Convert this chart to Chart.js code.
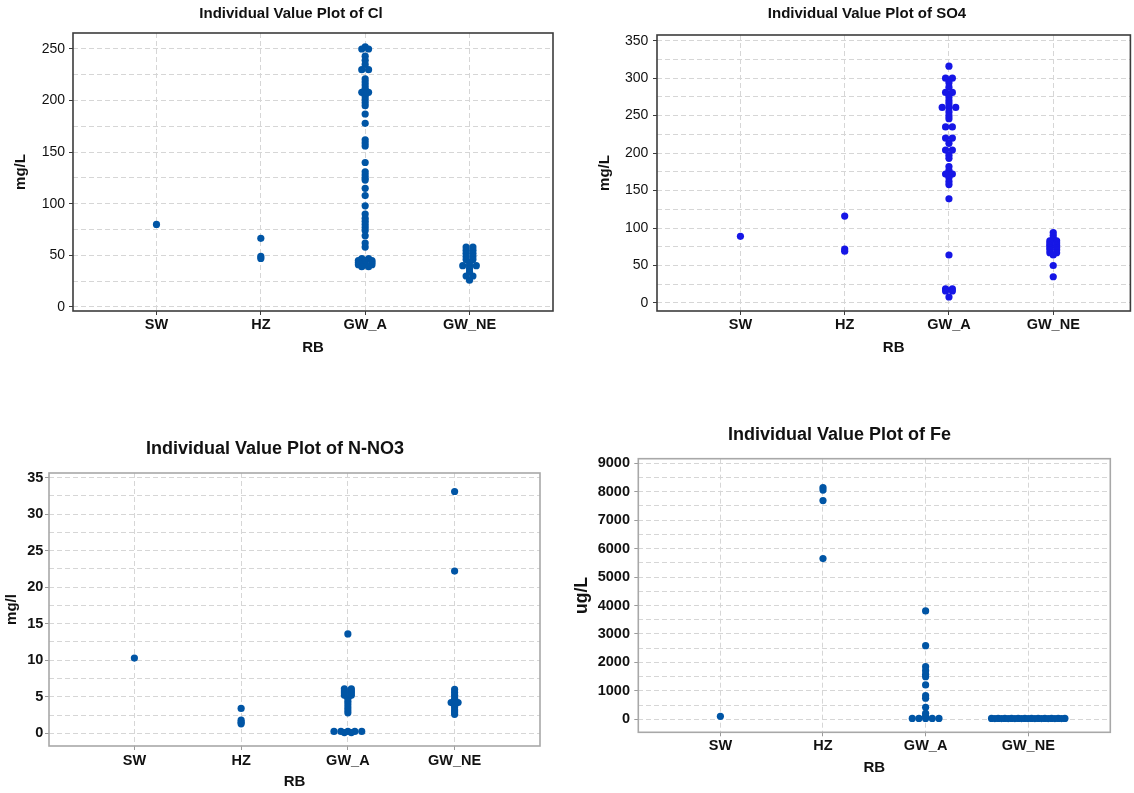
<!DOCTYPE html>
<html>
<head>
<meta charset="utf-8">
<script src="https://cdn.jsdelivr.net/npm/chart.js@4.4.1/dist/chart.umd.min.js"></script>
<style>
html, body { margin: 0; padding: 0; background: #fff; width: 1134px; height: 793px; overflow: hidden; }
.panel { position: absolute; }
</style>
</head>
<body>
<div class="panel" style="left:0;top:0;width:567px;height:360px"><canvas id="cl"></canvas></div>
<div class="panel" style="left:580px;top:0;width:554px;height:360px"><canvas id="so4"></canvas></div>
<div class="panel" style="left:0;top:420px;width:567px;height:373px"><canvas id="no3"></canvas></div>
<div class="panel" style="left:565px;top:420px;width:569px;height:373px"><canvas id="fe"></canvas></div>
<script>
var categories = ['SW', 'HZ', 'GW_A', 'GW_NE'];

// Cl (mg/L)
var clTicks = [0, 50, 100, 150, 200, 250];
var clSW = [80];
var clHZ = [66.5, 49, 47];
var clGWA = [252, 250, 250, 243, 239, 235, 230, 230, 221, 218, 215, 212, 210, 208, 208, 206, 204, 201, 198, 195,
	187, 178, 162, 159, 156, 140, 131, 128, 125, 123, 115, 108, 98, 90, 86, 83, 80, 77, 74, 69, 62, 58,
	47, 47, 45, 45, 45, 43, 43, 43, 41, 41, 41, 39, 39];
var clGWNE = [58, 58, 55, 55, 52, 52, 49, 49, 46, 46, 43, 40, 40, 40, 37, 34, 30, 30, 26];

// SO4 (mg/L)
var so4Ticks = [0, 50, 100, 150, 200, 250, 300, 350];
var so4SW = [89];
var so4HZ = [116, 72, 69];
var so4GWA = [316, 300, 300, 294, 288, 281, 281, 275, 270, 266, 261, 261, 261, 255, 250, 246, 235, 235, 220, 220,
	213, 204, 204, 197, 193, 182, 177, 172, 172, 167, 162, 158, 139, 64, 19, 19, 16, 16, 8];
var so4GWNE = [94, 90, 86, 83, 83, 80, 80, 77, 77, 74, 74, 71, 71, 67, 67, 64, 50, 35];

// N-NO3 (mg/l)
var no3Ticks = [0, 5, 10, 15, 20, 25, 30, 35];
var no3SW = [10.3];
var no3HZ = [3.4, 1.8, 1.5, 1.3];
var no3GWA = [13.6, 6.1, 6.1, 5.8, 5.8, 5.5, 5.5, 5.2, 5.2, 4.8, 4.4, 4.0, 3.6, 3.2, 2.8,
	0.25, 0.25, 0.25, 0.25, 0.25, 0.1, 0.1];
var no3GWNE = [33.1, 22.2, 6.0, 5.6, 5.2, 4.8, 4.5, 4.2, 4.2, 3.9, 3.6, 3.2, 2.9, 2.6];

// Fe (ug/L)
var feTicks = [0, 1000, 2000, 3000, 4000, 5000, 6000, 7000, 8000, 9000];
var feSW = [105];
var feHZ = [8150, 8060, 7690, 5650];
var feGWA = [3810, 2590, 1850, 1710, 1580, 1500, 1210, 830, 740, 420, 210, 117, 30, 30, 30, 30, 30];
var feGWNE = [30, 30, 30, 30, 30, 30, 30, 30, 30, 30, 30, 30,
	25, 25, 25, 25, 25, 25, 25, 25, 25, 25, 25];

var fontFamily = '"Liberation Sans", Arial, sans-serif';
var stackStep = 0.065; // sideways spacing of equal values, in category units

// equal values sit side by side around the category centre
function stackPoints(groups) {
	var pts = [];
	groups.forEach(function(vals, i) {
		var counts = {};
		var seen = {};
		vals.forEach(function(v) { counts[v] = (counts[v] || 0) + 1; });
		vals.forEach(function(v) {
			var k = seen[v] || 0;
			seen[v] = k + 1;
			pts.push({ x: i + 1 + (k - (counts[v] - 1) / 2) * stackStep, y: v });
		});
	});
	return pts;
}

// labelled ticks plus unlabelled grid lines half way between them
function withMinor(majors) {
	var out = [];
	for (var i = 0; i < majors.length; i++) {
		out.push({ value: majors[i] });
		if (i < majors.length - 1) out.push({ value: (majors[i] + majors[i + 1]) / 2 });
	}
	return out;
}

var framePlugin = {
	id: 'frame',
	afterDraw: function(chart, args, o) {
		var a = chart.chartArea;
		var ctx = chart.ctx;
		ctx.save();
		ctx.strokeStyle = o.color;
		ctx.lineWidth = o.width;
		ctx.strokeRect(a.left, a.top, a.right - a.left, a.bottom - a.top);
		ctx.restore();
	}
};

var headPlugin = {
	id: 'head',
	afterDraw: function(chart, args, o) {
		var ctx = chart.ctx;
		ctx.save();
		ctx.font = 'bold ' + o.size + 'px ' + fontFamily;
		ctx.fillStyle = '#111';
		ctx.textAlign = 'center';
		ctx.textBaseline = 'middle';
		ctx.fillText(o.text, o.x, o.y);
		ctx.restore();
	}
};

function makePanel(id, c) {
	var gridColor = '#d6d6d6';
	return new Chart(document.getElementById(id), {
		type: 'scatter',
		data: {
			datasets: [{
				data: stackPoints(c.groups),
				pointBackgroundColor: c.dot,
				pointBorderColor: c.dot,
				pointBorderWidth: 0,
				pointRadius: 3.6,
				pointHoverRadius: 3.6
			}]
		},
		options: {
			responsive: true,
			maintainAspectRatio: false,
			animation: false,
			devicePixelRatio: 1,
			layout: { padding: { left: 0, top: c.top, right: c.right, bottom: 0 } },
			plugins: {
				legend: { display: false },
				tooltip: { enabled: false },
				frame: { color: c.frame, width: 1.6 },
				head: c.head
			},
			scales: {
				x: {
					type: 'linear',
					min: 0.2,
					max: c.xMax,
					afterBuildTicks: function(s) {
						s.ticks = categories.map(function(n, i) { return { value: i + 1 }; });
					},
					afterFit: function(s) { s.height = c.xHeight; },
					ticks: {
						autoSkip: false,
						maxRotation: 0,
						padding: c.xPad,
						color: '#111',
						font: { family: fontFamily, size: 14.5, weight: 'bold' },
						callback: function(v) { return categories[v - 1]; }
					},
					grid: { color: gridColor, tickLength: 4, tickColor: c.tickColor, tickBorderDash: [], tickWidth: 1 },
					border: { display: false, dash: [5, 3] },
					title: {
						display: true, text: 'RB', color: '#111',
						font: { family: fontFamily, size: 15, weight: 'bold' },
						padding: { top: 0, bottom: c.xTitlePad }
					}
				},
				y: {
					min: c.yMin,
					max: c.yMax,
					afterBuildTicks: function(s) { s.ticks = withMinor(c.ticks); },
					afterFit: function(s) { s.width = c.yWidth; },
					ticks: {
						autoSkip: false,
						padding: c.yPad,
						color: '#111',
						font: { family: fontFamily, size: c.yFontSize, weight: c.yFontWeight },
						callback: function(v) { return c.ticks.indexOf(v) >= 0 ? String(v) : ''; }
					},
					grid: {
						color: gridColor, tickLength: 4, tickBorderDash: [], tickWidth: 1,
						tickColor: function(ctx) {
							return ctx.tick && c.ticks.indexOf(ctx.tick.value) >= 0 ? c.tickColor : 'rgba(0,0,0,0)';
						}
					},
					border: { display: false, dash: [5, 3] },
					title: {
						display: true, text: c.yTitle, color: '#111',
						font: { family: fontFamily, size: c.yTitleSize, weight: 'bold' },
						padding: { top: c.yTitlePad, bottom: 0 }
					}
				}
			}
		},
		plugins: [framePlugin, headPlugin]
	});
}

makePanel('cl', {
	groups: [clSW, clHZ, clGWA, clGWNE], ticks: clTicks, dot: '#0055a5',
	yMin: -3.9, yMax: 265.5, xMax: 4.8,
	top: 33, right: 14, yWidth: 73, xHeight: 49, xPad: 1.3, yPad: 4, xTitlePad: 3,
	yFontSize: 14, yFontWeight: 'normal', yTitle: 'mg/L', yTitleSize: 15, yTitlePad: 12,
	frame: '#3c3c3c', tickColor: '#3c3c3c',
	head: { text: 'Individual Value Plot of Cl', x: 291, y: 14, size: 15 }
});

makePanel('so4', {
	groups: [so4SW, so4HZ, so4GWA, so4GWNE], ticks: so4Ticks, dot: '#1616e6',
	yMin: -10.7, yMax: 357.6, xMax: 4.74,
	top: 35, right: 1, yWidth: 77, xHeight: 49, xPad: 1.3, yPad: 4.7, xTitlePad: 3,
	yFontSize: 14, yFontWeight: 'normal', yTitle: 'mg/L', yTitleSize: 15, yTitlePad: 15.6,
	frame: '#3c3c3c', tickColor: '#3c3c3c',
	head: { text: 'Individual Value Plot of SO4', x: 287, y: 14, size: 15 }
});

makePanel('no3', {
	groups: [no3SW, no3HZ, no3GWA, no3GWNE], ticks: no3Ticks, dot: '#0055a5',
	yMin: -1.74, yMax: 35.63, xMax: 4.8,
	top: 53, right: 27, yWidth: 49, xHeight: 47, xPad: 2.3, yPad: 1.7, xTitlePad: 2.3,
	yFontSize: 14.5, yFontWeight: 'bold', yTitle: 'mg/l', yTitleSize: 15, yTitlePad: 2.7,
	frame: '#a8a8a8', tickColor: '#9a9a9a',
	head: { text: 'Individual Value Plot of N-NO3', x: 275, y: 29, size: 18 }
});

makePanel('fe', {
	groups: [feSW, feHZ, feGWA, feGWNE], ticks: feTicks, dot: '#0055a5',
	yMin: -457, yMax: 9162, xMax: 4.8,
	top: 38.7, right: 23.7, yWidth: 73.3, xHeight: 60.7, xPad: 0.7, yPad: 4.3, xTitlePad: 16,
	yFontSize: 14.5, yFontWeight: 'bold', yTitle: 'ug/L', yTitleSize: 17.5, yTitlePad: 6.5,
	frame: '#a8a8a8', tickColor: '#9a9a9a',
	head: { text: 'Individual Value Plot of Fe', x: 274.5, y: 15, size: 18 }
});
</script>
</body>
</html>
